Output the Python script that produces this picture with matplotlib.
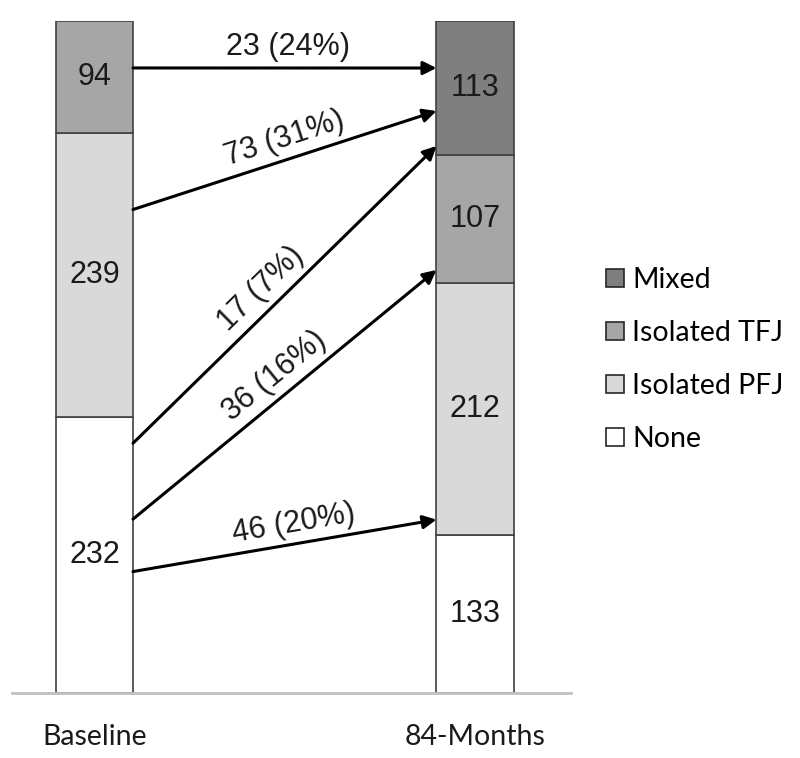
import numpy as np
import matplotlib.pyplot as plt
from matplotlib.patches import Patch

# stacked bar counts, bottom -> top
timepoints = ['Baseline', '84-Months']
categories = ['None', 'Isolated PFJ', 'Isolated TFJ', 'Mixed']
baseline_counts = [232, 239, 94, 0]
month84_counts = [133, 212, 107, 113]

# transitions: (from category, to category, count, percent)
flow_from = ['Isolated TFJ', 'Isolated PFJ', 'None', 'None', 'None']
flow_to = ['Mixed', 'Mixed', 'Mixed', 'Isolated TFJ', 'Isolated PFJ']
flow_n = [23, 73, 17, 36, 46]
flow_pct = [24, 31, 7, 16, 20]

# where the arrows attach inside each segment (fraction of segment height)
start_frac = [0.58, 0.73, 0.905, 0.63, 0.44]
end_frac = [0.65, 0.33, 0.07, 0.10, 0.06]
label_pos = [0.51, 0.52, 0.47, 0.51, 0.54]

colors = {'None': '#ffffff', 'Isolated PFJ': '#d9d9d9',
          'Isolated TFJ': '#a6a6a6', 'Mixed': '#7f7f7f'}

num_font = 'Liberation Sans'
cat_font = 'Lato'

fig = plt.figure(figsize=(8, 7.58), dpi=100)
ax = fig.add_axes([0.015, 0.0858, 0.69875, 0.8865])

width = 0.2024
x = np.arange(len(timepoints))
bottoms = np.zeros(2)
seg = {}  # (bar, cat) -> (bottom, height)
for i, cat in enumerate(categories):
    vals = np.array([baseline_counts[i], month84_counts[i]])
    for j in range(2):
        if vals[j] > 0:
            ax.bar(x[j], vals[j], width, bottom=bottoms[j], color=colors[cat],
                   edgecolor='#404040', linewidth=1.2, zorder=2)
            ax.text(x[j], bottoms[j] + vals[j] / 2, str(vals[j]), ha='center',
                    va='center', fontsize=22, family=num_font, color='#1a1a1a',
                    zorder=3)
            seg[(j, cat)] = (bottoms[j], vals[j])
    bottoms += vals

ax.set_xlim(-0.2168, 1.2523)
ax.set_ylim(0, sum(baseline_counts))
for s in ['top', 'left', 'right']:
    ax.spines[s].set_visible(False)
ax.spines['bottom'].set_color('#c0c0c0')
ax.spines['bottom'].set_linewidth(2)
ax.set_yticks([])
ax.set_xticks(x)
ax.set_xticklabels(timepoints, fontsize=20.5, family=cat_font, color='#1a1a1a')
ax.tick_params(axis='x', length=0, pad=22)

fig.canvas.draw()
x0 = x[0] + width / 2
x1 = x[1] - width / 2
for k in range(len(flow_n)):
    b0, h0 = seg[(0, flow_from[k])]
    b1, h1 = seg[(1, flow_to[k])]
    y0 = b0 + start_frac[k] * h0
    y1 = b1 + end_frac[k] * h1
    ax.annotate('', xy=(x1, y1), xytext=(x0, y0),
                arrowprops=dict(arrowstyle='-|>', color='black', lw=2.2,
                                mutation_scale=20, shrinkA=0, shrinkB=0),
                zorder=4)
    p0 = ax.transData.transform((x0, y0))
    p1 = ax.transData.transform((x1, y1))
    ang = np.degrees(np.arctan2(p1[1] - p0[1], p1[0] - p0[0]))
    t = label_pos[k]
    lx, ly = x0 + t * (x1 - x0), y0 + t * (y1 - y0)
    off = 4
    dx, dy = -np.sin(np.radians(ang)) * off, np.cos(np.radians(ang)) * off
    ax.annotate(f'{flow_n[k]} ({flow_pct[k]}%)', xy=(lx, ly),
                xytext=(dx, dy), textcoords='offset points',
                rotation=ang, rotation_mode='anchor', ha='center',
                va='bottom', fontsize=22, family=num_font, color='#1a1a1a')

handles = [Patch(facecolor=colors[c], edgecolor='#262626', linewidth=1.2)
           for c in categories[::-1]]
fig.legend(handles, categories[::-1], loc='center left',
           bbox_to_anchor=(0.757, 0.526), frameon=False,
           prop={'family': cat_font, 'size': 20.5}, handlelength=0.63,
           handleheight=0.6, handletextpad=0.3, labelspacing=0.95,
           borderpad=0, borderaxespad=0)

fig.savefig('out.png', dpi=100)
